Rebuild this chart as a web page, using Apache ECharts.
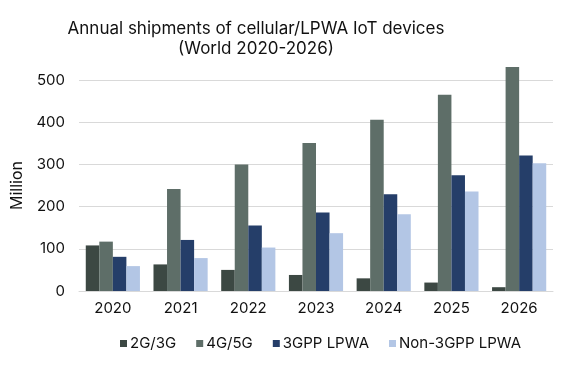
<!DOCTYPE html>
<html><head><meta charset="utf-8">
<script src="https://cdn.jsdelivr.net/npm/echarts@6/dist/echarts.min.js"></script>
<style>html,body{margin:0;padding:0;background:#fff}#c{width:575px;height:375px}</style>
</head><body><div id="c"></div>
<script>
const years = ['2020','2021','2022','2023','2024','2025','2026'];
const g2g3 = [108, 63, 50, 38, 30, 20, 9];
const g4g5 = [117, 242, 300, 351, 406, 465, 531];
const lpwa3gpp = [81, 121, 155, 186, 229, 274, 321];
const nonLpwa = [59, 78, 103, 137, 182, 236, 303];
const seriesNames = ['2G/3G', '4G/5G', '3GPP LPWA', 'Non-3GPP LPWA'];
const colors = ['#3c4843', '#5e6e68', '#253e69', '#b3c6e5'];
const font = 'Inter, "Noto Sans", sans-serif';
const chart = echarts.init(document.getElementById('c'));
const datas = [g2g3, g4g5, lpwa3gpp, nonLpwa];
chart.setOption({
  animation: false,
  color: colors,
  title: {
    text: 'Annual shipments of cellular/LPWA IoT devices\n(World 2020-2026)',
    left: 251, top: 14, textAlign: 'center',
    textStyle: {fontFamily: font, fontSize: 17, fontWeight: 'normal', color: '#111', lineHeight: 20}
  },
  legend: {
    data: seriesNames, top: 331, left: 115,
    itemWidth: 7, itemHeight: 7, itemGap: 20, icon: 'rect',
    textStyle: {fontFamily: font, fontSize: 15, color: '#111', padding: [0, 0, 0, -2]}
  },
  grid: {left: 79, right: 22, top: 80, bottom: 84},
  xAxis: {
    type: 'category', data: years,
    axisLine: {lineStyle: {color: '#d9d9d9'}}, axisTick: {show: false},
    axisLabel: {fontFamily: font, fontSize: 15, color: '#111', margin: 10}
  },
  yAxis: {
    type: 'value', min: 0, max: 500, interval: 100,
    name: 'Million', nameLocation: 'middle', nameGap: 52, nameRotate: 90,
    nameTextStyle: {fontFamily: font, fontSize: 16, color: '#111'},
    axisLabel: {fontFamily: font, fontSize: 15, color: '#111', margin: 14},
    splitLine: {lineStyle: {color: '#d9d9d9'}}
  },
  series: datas.map((d, i) => ({
    name: seriesNames[i], type: 'bar', data: d, clip: false,
    barGap: '0%', barCategoryGap: '20%'
  }))
});
</script></body></html>
